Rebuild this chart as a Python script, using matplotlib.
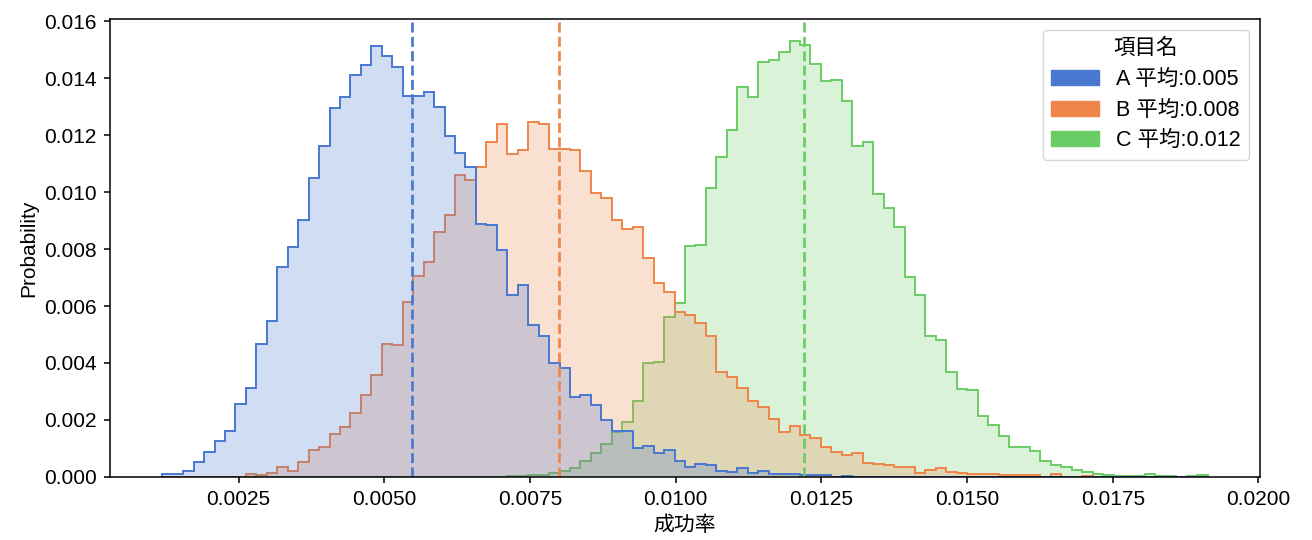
import matplotlib
matplotlib.use("Agg")
import matplotlib.pyplot as plt
import numpy as np
from matplotlib.patches import Patch

plt.rcParams['font.family'] = ['Liberation Sans', 'Noto Sans CJK JP']

# shared histogram bins (success rate)
bin_lo = 0.00119
bin_hi = 0.01913
n_bins = 100

names = ['A', 'B', 'C']
means = [0.00548, 0.00799, 0.01221]
colors = ['#4878d0', '#ee854a', '#6acc64']

# probability per bin
prob_a = [0.0001, 0.0001, 0.00019, 0.00052, 0.00087, 0.00125, 0.00162, 0.00256, 0.00313, 0.00466,
          0.00548, 0.00736, 0.00809, 0.00901, 0.01051, 0.01162, 0.01295, 0.01333, 0.01412, 0.01445,
          0.01512, 0.01477, 0.01439, 0.01339, 0.01339, 0.01351, 0.01298, 0.01198, 0.01136, 0.01089,
          0.00889, 0.00884, 0.00796, 0.00638, 0.00675, 0.00533, 0.00495, 0.00401, 0.00383, 0.00280,
          0.00289, 0.00252, 0.00201, 0.00161, 0.00161, 0.00102, 0.00109, 0.00085, 0.00093, 0.00056,
          0.00036, 0.00046, 0.00042, 0.0002, 0.00016, 0.00031, 0.00012, 0.0002, 0.0001, 0.0001,
          0.0001, 0.00005, 0.00005, 0.00005, 0.0, 0.00004, 0.0, 0.0, 0.0, 0.0,
          0.0, 0.0, 0.0, 0.0, 0.0, 0.0, 0.0, 0.0, 0.0, 0.0,
          0.0, 0.0, 0.0, 0.0, 0.0, 0.0, 0.0, 0.0, 0.0, 0.0,
          0.0, 0.0, 0.0, 0.0, 0.0, 0.0, 0.0, 0.0, 0.0, 0.0]

prob_b = [0.0, 0.0, 0.0, 0.0, 0.0, 0.0, 0.0, 0.0, 0.0001, 0.00007,
          0.00012, 0.00033, 0.00021, 0.00052, 0.00095, 0.00105, 0.00151, 0.00175, 0.00225, 0.00287,
          0.00356, 0.00466, 0.00462, 0.00614, 0.00706, 0.00754, 0.0086, 0.00921, 0.01062, 0.01044,
          0.0109, 0.01177, 0.01241, 0.01134, 0.01147, 0.01245, 0.01238, 0.01153, 0.0115, 0.01147,
          0.01075, 0.00997, 0.00978, 0.00901, 0.0087, 0.00879, 0.0077, 0.00682, 0.00648, 0.0058,
          0.00567, 0.0054, 0.00493, 0.00369, 0.00351, 0.00313, 0.00266, 0.00245, 0.00204, 0.00156,
          0.00177, 0.00147, 0.00136, 0.00104, 0.00086, 0.00078, 0.00083, 0.00048, 0.00046, 0.00041,
          0.00034, 0.00036, 0.00015, 0.00024, 0.00031, 0.00017, 0.00015, 0.0001, 0.0001, 0.0001,
          0.00006, 0.00006, 0.00006, 0.00006, 0.0, 0.00009, 0.0, 0.0, 0.00004, 0.0,
          0.0, 0.0, 0.0, 0.0, 0.0, 0.0, 0.0, 0.0, 0.0, 0.0]

prob_c = [0.0, 0.0, 0.0, 0.0, 0.0, 0.0, 0.0, 0.0, 0.0, 0.0,
          0.0, 0.0, 0.0, 0.0, 0.0, 0.0, 0.0, 0.0, 0.0, 0.0,
          0.0, 0.0, 0.0, 0.0, 0.0, 0.0, 0.0, 0.0, 0.0, 0.0,
          0.0, 0.0, 0.0, 0.00003, 0.00004, 0.00006, 0.00006, 0.00015, 0.00022, 0.00031,
          0.00054, 0.00084, 0.00117, 0.00157, 0.00194, 0.00267, 0.00399, 0.00405, 0.00561, 0.00611,
          0.00811, 0.00816, 0.01015, 0.01125, 0.01219, 0.01368, 0.01336, 0.01456, 0.01465, 0.01492,
          0.01532, 0.01518, 0.01451, 0.01389, 0.01394, 0.0132, 0.01163, 0.01177, 0.00992, 0.00945,
          0.00879, 0.00703, 0.00638, 0.00495, 0.00481, 0.00368, 0.00309, 0.00304, 0.00214, 0.00183,
          0.00145, 0.00105, 0.00105, 0.00089, 0.00054, 0.00041, 0.00034, 0.00025, 0.00017, 0.0001,
          0.00006, 0.00003, 0.00003, 0.00002, 0.0001, 0.00002, 0.00002, 0.0, 0.00004, 0.00005]

probs = [prob_a, prob_b, prob_c]

edges = np.linspace(bin_lo, bin_hi, n_bins + 1)

fig, ax = plt.subplots(figsize=(13.12, 5.4), dpi=100)
fig.subplots_adjust(left=0.0838, right=0.9604, top=0.965, bottom=0.117)

# step histograms with light fill, first group drawn on top
for p, c in reversed(list(zip(probs, colors))):
    ax.stairs(p, edges, fill=True, color=c, alpha=0.25, linewidth=0)
    ax.stairs(p, edges, color=c, linewidth=1.4)

# mean lines
for m, c in zip(means, colors):
    ax.axvline(m, color=c, linestyle='--', linewidth=1.95)

ax.set_xlabel('成功率', fontsize=15, labelpad=5)
ax.set_ylabel('Probability', fontsize=15)
ax.tick_params(labelsize=15, length=4.5, width=1.1, pad=5)
for s in ax.spines.values():
    s.set_linewidth(1.1)

handles = [Patch(facecolor=c, edgecolor=c) for c in colors]
labels = [f'{n} 平均:{m:.3f}' for n, m in zip(names, means)]
ax.legend(handles, labels, title='項目名', fontsize=15.5, title_fontsize=15.5,
          loc='upper right', labelspacing=0.45, handlelength=2.2)

plt.savefig('out.png', dpi=100)
